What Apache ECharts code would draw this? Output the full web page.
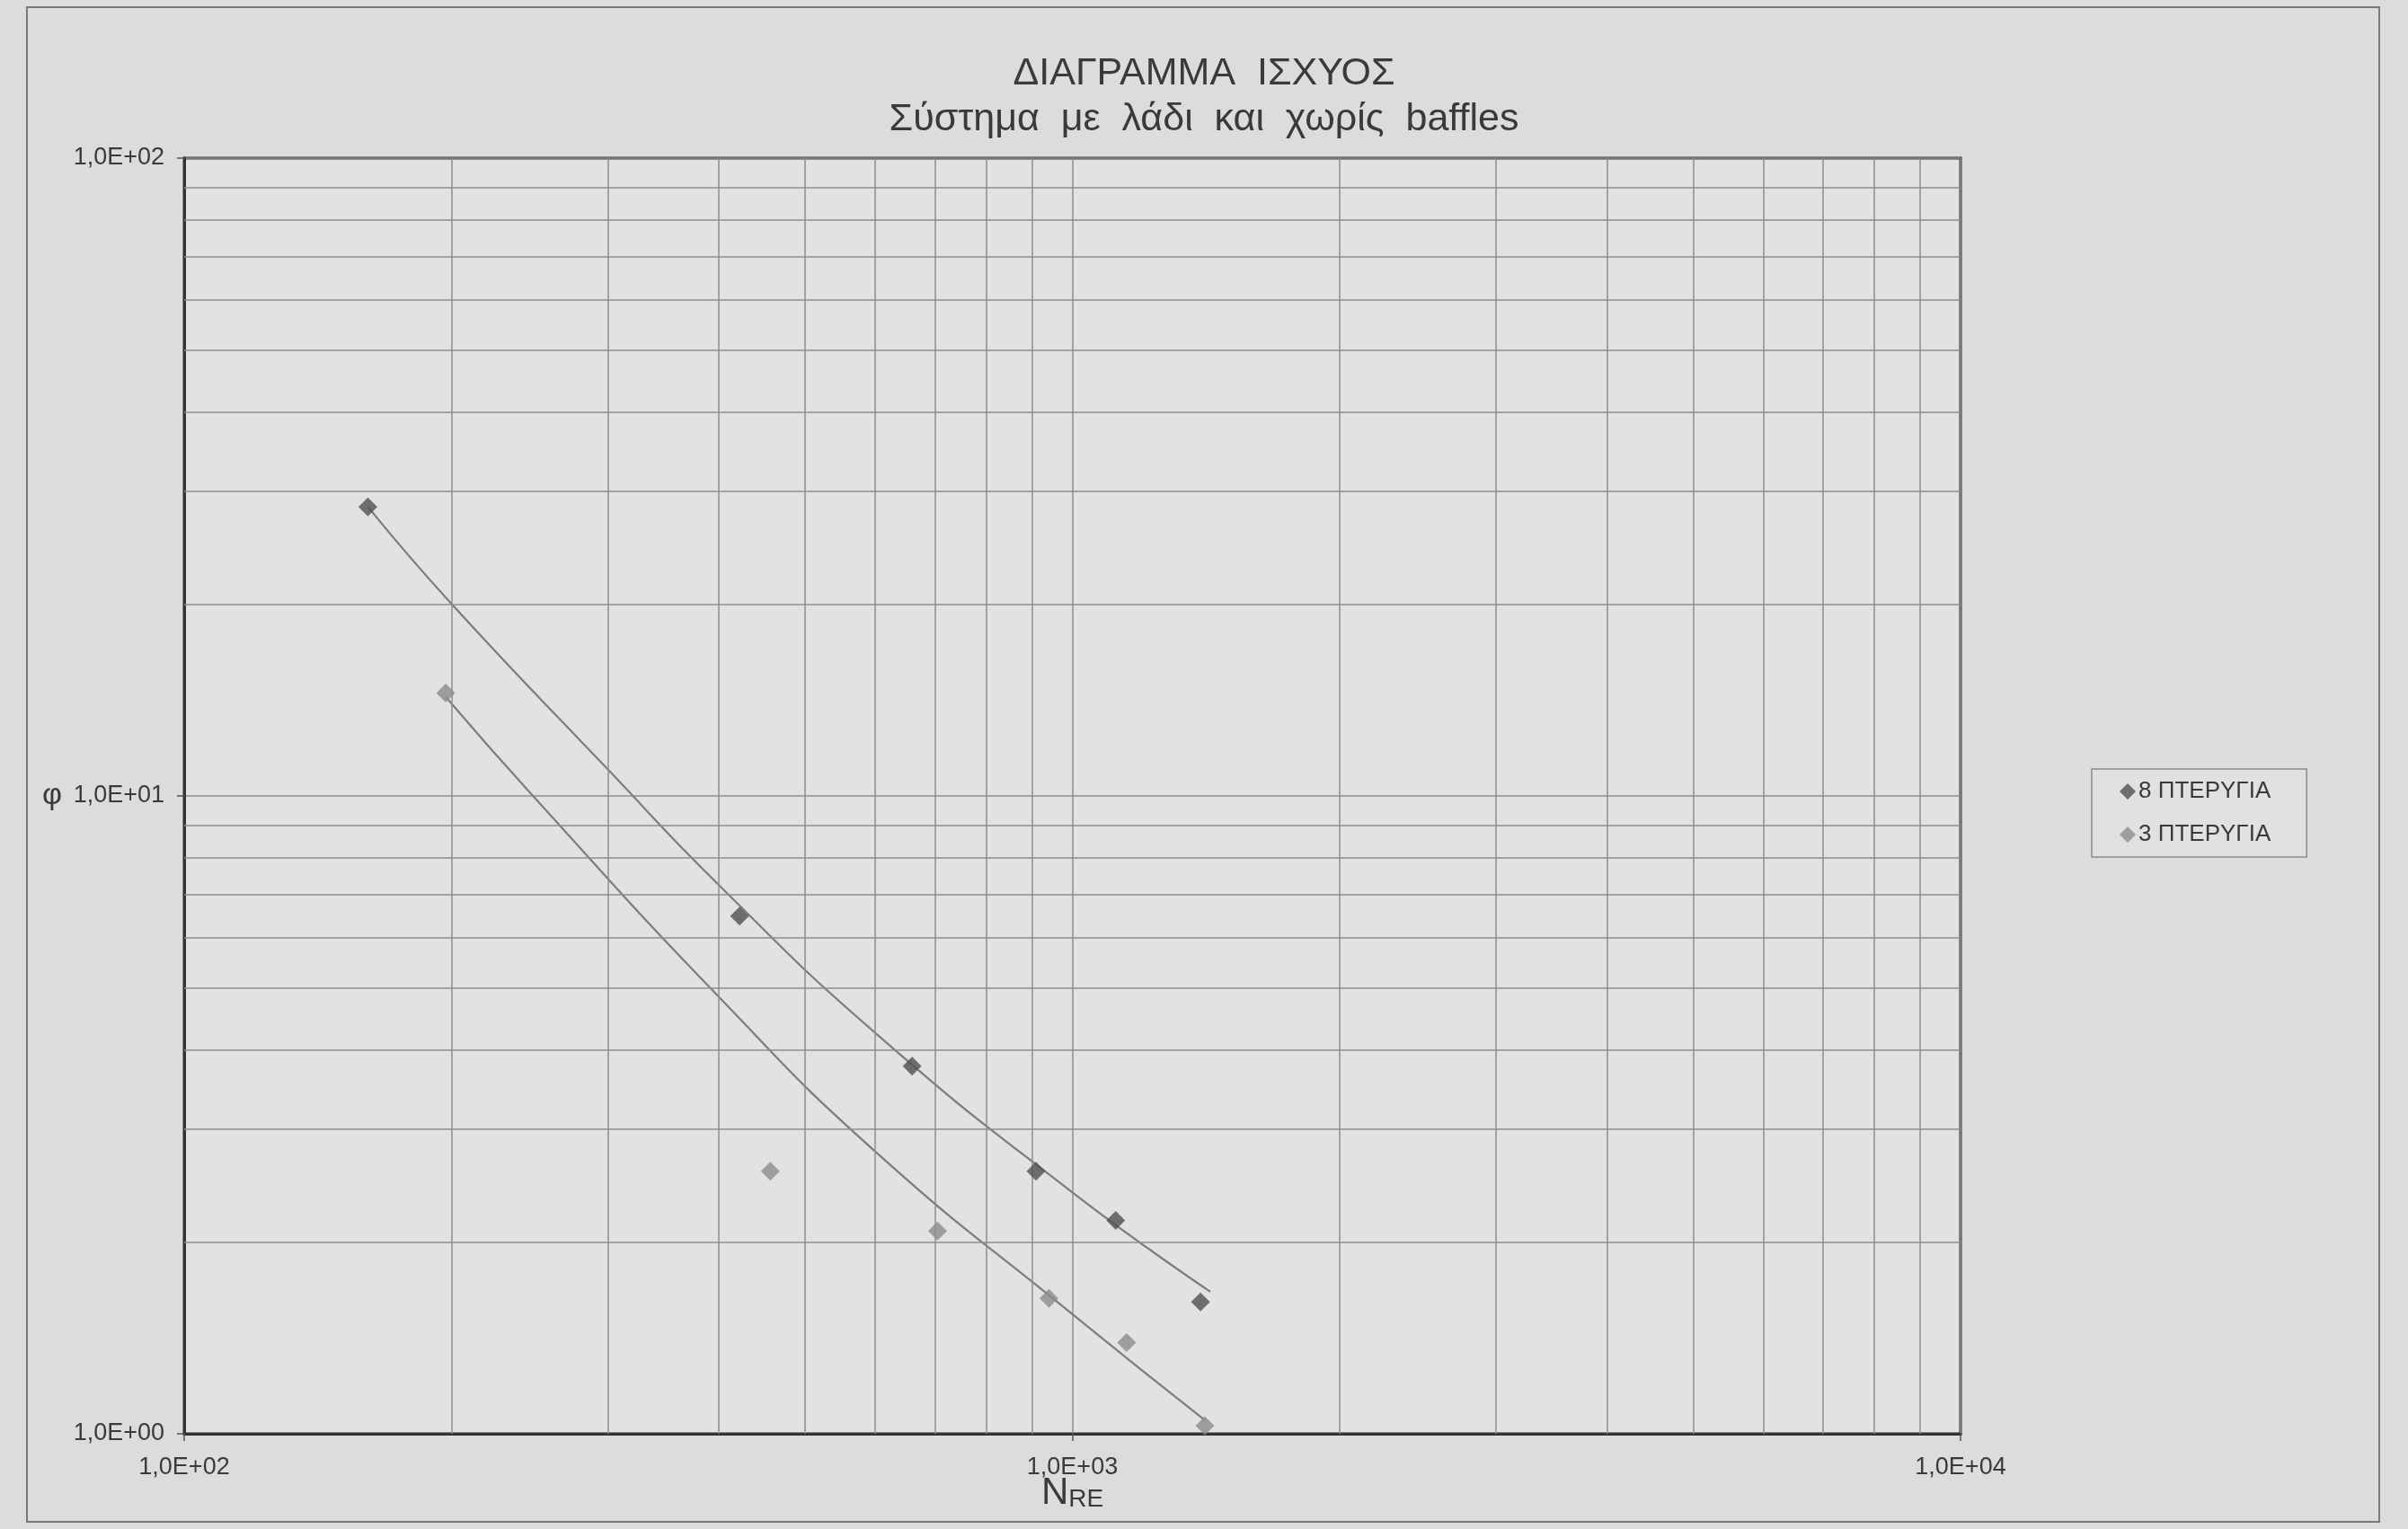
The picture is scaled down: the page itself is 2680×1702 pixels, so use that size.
<!DOCTYPE html>
<html><head><meta charset="utf-8">
<script src="https://cdn.jsdelivr.net/npm/echarts@6/dist/echarts.min.js"></script>
<style>html,body{margin:0;padding:0;background:#dcdcdc;} #c{width:2680px;height:1702px;}</style>
</head><body><div id="c"></div>
<script>
// ---- data ----
const seriesNames = ['8 ΠΤΕΡΥΓΙΑ', '3 ΠΤΕΡΥΓΙΑ'];
const nre8 = [161, 422, 660, 910, 1119, 1394];
const phi8 = [28.4, 6.48, 3.77, 2.58, 2.16, 1.61];
const nre3 = [197, 457, 705, 941, 1151, 1410];
const phi3 = [14.5, 2.58, 2.08, 1.63, 1.39, 1.03];
// trend curves
const trendNre8 = [161, 200, 300, 400, 600, 1000, 1430];
const trendPhi8 = [28.4, 20, 11, 7.25, 4.25, 2.39, 1.67];
const trendNre3 = [197, 247, 400, 600, 1000, 1410];
const trendPhi3 = [14.3, 10, 4.84, 2.77, 1.54, 1.05];
const xTickValues = [100, 1000, 10000];
const xTickLabels = ['1,0E+02', '1,0E+03', '1,0E+04'];
const yTickValues = [1, 10, 100];
const yTickLabels = ['1,0E+00', '1,0E+01', '1,0E+02'];
const xMinorGrid = [200, 300, 400, 500, 600, 700, 800, 900, 2000, 3000, 4000, 5000, 6000, 7000, 8000, 9000];
const yMinorGrid = [2, 3, 4, 5, 6, 7, 8, 9, 20, 30, 40, 50, 60, 70, 80, 90];
const titleText = 'ΔΙΑΓΡΑΜΜΑ  ΙΣΧΥΟΣ';
const subtitleText = 'Σύστημα  με  λάδι  και  χωρίς  baffles';

// ---- helpers ----
const zip = (a, b) => a.map((v, i) => [v, b[i]]);
function tickFmt(values, labels) {
  return function (v) {
    const i = values.findIndex(t => Math.abs(Math.log10(t) - Math.log10(v)) < 1e-6);
    return i >= 0 ? labels[i] : '';
  };
}
const FONT = 'Liberation Sans, Arial, sans-serif';
const TXT = '#3a3a3a';
const GRID_C = '#8e8e8e';

const chart = echarts.init(document.getElementById('c'));
chart.setOption({
  backgroundColor: '#dcdcdc',
  animation: false,
  textStyle: { fontFamily: FONT },
  graphic: [{
    type: 'rect', z: -10,
    shape: { x: 30, y: 8, width: 2618, height: 1686 },
    style: { fill: 'none', stroke: '#7a7a7a', lineWidth: 2 }
  }],
  title: {
    text: titleText, subtext: subtitleText,
    left: 'center', top: 56, itemGap: 8,
    textStyle: { fontSize: 43, fontWeight: 'normal', color: TXT, fontFamily: FONT },
    subtextStyle: { fontSize: 43, color: TXT, fontFamily: FONT }
  },
  legend: {
    orient: 'vertical', left: 2328, top: 856,
    data: seriesNames, icon: 'diamond',
    itemWidth: 18, itemHeight: 18, itemGap: 22,
    padding: [12, 40, 12, 31],
    borderColor: '#8a8a8a', borderWidth: 1.5, backgroundColor: '#e1e1e1',
    textStyle: { fontSize: 26, color: TXT, padding: [0, 0, 0, -2] }
  },
  grid: {
    left: 205, right: 498, top: 176, bottom: 106,
    show: true, borderColor: '#333', borderWidth: 3, backgroundColor: '#e2e2e2'
  },
  xAxis: {
    type: 'log', logBase: 10, min: 100, max: 10000, splitNumber: 2,
    name: '{n|N}{r|RE}', nameLocation: 'middle', nameGap: 45, nameMoveOverlap: false,
    nameTextStyle: {
      color: TXT,
      rich: { n: { fontSize: 42, color: TXT, verticalAlign: 'bottom' }, r: { fontSize: 28, color: TXT, verticalAlign: 'bottom' } }
    },
    axisLine: { show: true, lineStyle: { color: '#333', width: 3 } },
    axisTick: { show: true, length: 8, lineStyle: { color: '#555', width: 1.5 } },
    axisLabel: { margin: 24, fontSize: 27, color: TXT, formatter: tickFmt(xTickValues, xTickLabels), showMinLabel: true, showMaxLabel: true },
    splitLine: { show: true, lineStyle: { color: GRID_C, width: 1.5 } },
    minorTick: { show: false }, minorSplitLine: { show: false }
  },
  yAxis: {
    type: 'log', logBase: 10, min: 1, max: 100, splitNumber: 2,
    name: 'φ', nameLocation: 'middle', nameGap: 136, nameRotate: 0,
    nameTextStyle: { fontSize: 34, color: TXT },
    axisLine: { show: true, lineStyle: { color: '#333', width: 3 } },
    axisTick: { show: true, length: 8, lineStyle: { color: '#555', width: 1.5 } },
    axisLabel: { margin: 22, fontSize: 27, color: TXT, formatter: tickFmt(yTickValues, yTickLabels), showMinLabel: true, showMaxLabel: true },
    splitLine: { show: true, lineStyle: { color: GRID_C, width: 1.5 } },
    minorTick: { show: false }, minorSplitLine: { show: false }
  },
  series: [
    {
      name: 'trend8', type: 'line', data: zip(trendNre8, trendPhi8),
      smooth: 0.5, showSymbol: false, symbol: 'none', silent: true, z: 2,
      lineStyle: { color: '#7d7d7d', width: 2.2 },
      markLine: {
        silent: true, symbol: 'none', animation: false,
        label: { show: false },
        lineStyle: { color: GRID_C, width: 1.5, type: 'solid' },
        data: xMinorGrid.map(v => ({ xAxis: v })).concat(yMinorGrid.map(v => ({ yAxis: v })))
      }
    },
    {
      name: 'trend3', type: 'line', data: zip(trendNre3, trendPhi3),
      smooth: 0.5, showSymbol: false, symbol: 'none', silent: true, z: 2,
      lineStyle: { color: '#7d7d7d', width: 2.2 }
    },
    {
      name: seriesNames[0], type: 'scatter', data: zip(nre8, phi8),
      symbol: 'diamond', symbolSize: 21, z: 5,
      itemStyle: { color: '#505050' }
    },
    {
      name: seriesNames[1], type: 'scatter', data: zip(nre3, phi3),
      symbol: 'diamond', symbolSize: 21, z: 5,
      itemStyle: { color: '#8c8c8c' }
    }
  ]
});
</script>
</body></html>
